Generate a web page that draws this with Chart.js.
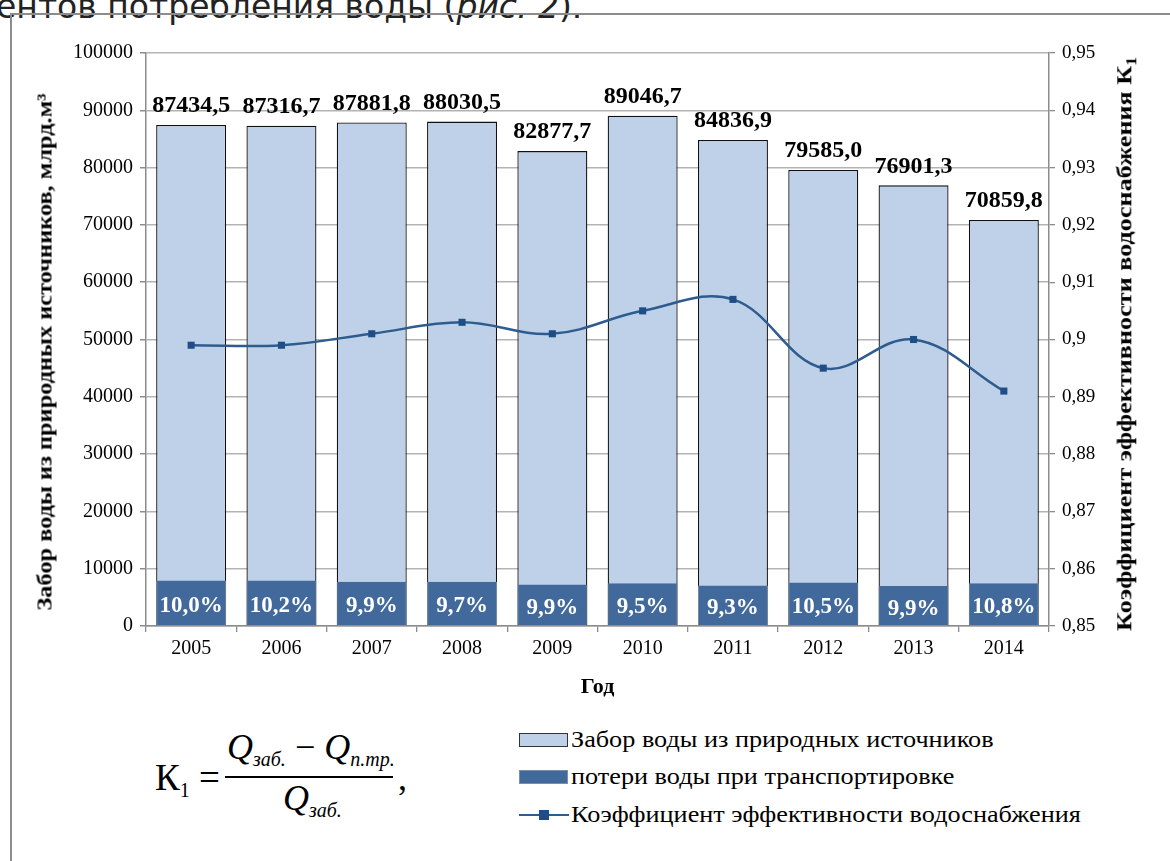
<!DOCTYPE html>
<html><head><meta charset="utf-8">
<script src="https://cdn.jsdelivr.net/npm/chart.js@4.4.1/dist/chart.umd.min.js"></script>
<style>
html,body{margin:0;padding:0;background:#fff;}
body{width:1170px;height:861px;overflow:hidden;position:relative;font-family:"Liberation Serif",serif;color:#000;}
#toptext{position:absolute;left:-4px;top:-13px;font-family:"DejaVu Sans",sans-serif;font-size:33px;color:#222;white-space:nowrap;}
#frame{position:absolute;left:10px;top:13px;width:1300px;height:1000px;border-left:2px solid #8c8c8c;border-top:2px solid #8c8c8c;}
#wrap{position:absolute;left:0;top:0;width:1170px;height:710px;}
.vt{position:absolute;white-space:nowrap;font-weight:bold;}
#ltitle{left:45px;top:352px;font-size:21px;transform:translate(-50%,-50%) rotate(-90deg) scale(1.16,1);}
#rtitle{left:1126px;top:344px;font-size:22px;transform:translate(-50%,-50%) rotate(-90deg) scale(1.19,1);}
#legend{position:absolute;left:519px;top:726px;font-size:23px;}
.item{position:absolute;left:0;height:26px;display:flex;align-items:center;white-space:nowrap;}
.item .txt{display:inline-block;transform:scale(1.14,1);transform-origin:left center;}
.box{display:inline-block;width:49px;height:14px;margin-right:3px;box-sizing:border-box;}
.light{background:#BFD1E8;border:1.5px solid #333;}
.dark{background:#41699B;border:1px solid #7a8fa8;}
.lineSym{position:relative;display:inline-block;width:50px;height:13px;margin-right:2px;}
.lineSym:before{content:"";position:absolute;left:0;right:0;top:5px;height:2.5px;background:#2E5C8F;}
.lineSym:after{content:"";position:absolute;left:20px;top:1px;width:10px;height:10px;background:#1F4E87;}
#formula{position:absolute;left:155px;top:735px;font-size:37px;}
#formula .part{position:absolute;white-space:nowrap;}
#formula i{font-style:italic;}
#formula sub{font-size:20px;vertical-align:-7px;}
</style></head>
<body>
<div id="toptext">ентов потребления воды (<i>рис. 2</i>).</div>
<div id="frame"></div>
<div id="wrap"><canvas id="c" width="1170" height="710"></canvas></div>
<div id="ltitle" class="vt">Забор воды из природных источников, млрд.м³</div>
<div id="rtitle" class="vt">Коэффициент эффективности водоснабжения К<sub style="font-size:15px">1</sub></div>
<div id="legend">
  <div class="item" style="top:1px"><span class="box light"></span><span class="txt" id="lg0"></span></div>
  <div class="item" style="top:38px"><span class="box dark"></span><span class="txt" id="lg1"></span></div>
  <div class="item" style="top:76px"><span class="lineSym"></span><span class="txt" id="lg2"></span></div>
</div>
<div id="formula">
  <div class="part" style="left:0;top:21px;">К<sub>1</sub> =</div>
  <div class="part" style="left:72px;top:-9px;font-size:36px;"><i>Q</i><sub><i>заб.</i></sub> − <i>Q</i><sub><i>п.тр.</i></sub></div>
  <div class="part" style="left:70px;top:41px;width:168px;height:1.5px;background:#000;"></div>
  <div class="part" style="left:128px;top:42px;font-size:36px;"><i>Q</i><sub><i>заб.</i></sub></div>
  <div class="part" style="left:243px;top:22px;font-size:36px;">,</div>
</div>
<script>
// ---- data ----
const years = ['2005','2006','2007','2008','2009','2010','2011','2012','2013','2014'];
const intake = [87434.5, 87316.7, 87881.8, 88030.5, 82877.7, 89046.7, 84836.9, 79585.0, 76901.3, 70859.8];
const losses = [7940, 7940, 7710, 7710, 7240, 7470, 7060, 7590, 7000, 7470];
const lossShare = [10.0, 10.2, 9.9, 9.7, 9.9, 9.5, 9.3, 10.5, 9.9, 10.8];
const k1 = [0.899, 0.899, 0.901, 0.903, 0.901, 0.905, 0.907, 0.895, 0.900, 0.891];
const seriesNames = ['Забор воды из природных источников','потери воды при транспортировке','Коэффициент эффективности водоснабжения'];
const leftAxis = {min:0, max:100000, step:10000};
const rightAxis = {min:0.85, max:0.95, step:0.01};

document.getElementById('lg0').textContent = seriesNames[0];
document.getElementById('lg1').textContent = seriesNames[1];
document.getElementById('lg2').textContent = seriesNames[2];

const FONT = '"Liberation Serif", serif';
const comma = s => s.replace('.', ',');

const labelPlugin = {
  id: 'barLabels',
  afterDatasetsDraw(chart) {
    const ctx = chart.ctx;
    const m0 = chart.getDatasetMeta(0), m1 = chart.getDatasetMeta(1);
    ctx.save();
    ctx.textAlign = 'center';
    ctx.textBaseline = 'middle';
    ctx.font = 'bold 24px ' + FONT;
    ctx.fillStyle = '#000';
    m0.data.forEach((el, i) => ctx.fillText(comma(intake[i].toFixed(1)), el.x, el.y - 19));
    ctx.font = 'bold 23px ' + FONT;
    ctx.fillStyle = '#fff';
    m1.data.forEach((el, i) => ctx.fillText(comma(lossShare[i].toFixed(1)) + '%', el.x, (el.y + el.base) / 2 + 3));
    ctx.restore();
  }
};

new Chart(document.getElementById('c'), {
  data: {
    labels: years,
    datasets: [
      { type:'bar', label: seriesNames[0], data: intake, yAxisID:'y', order:3,
        backgroundColor:'#BFD1E8', borderColor:'#111', borderWidth:1.3,
        barPercentage:0.775, categoryPercentage:1 },
      { type:'bar', label: seriesNames[1], data: losses, yAxisID:'y', order:2,
        backgroundColor:'#41699B', borderColor:'#7d93ad', borderWidth:{top:0,left:1,right:1,bottom:0},
        barPercentage:0.775, categoryPercentage:1 },
      { type:'line', label: seriesNames[2], data: k1, yAxisID:'y1', order:1,
        borderColor:'#2E5C8F', borderWidth:2.5, tension:0.38, cubicInterpolationMode:'default',
        pointStyle:'rect', pointRadius:5, pointBackgroundColor:'#1F4E87', pointBorderColor:'#1F4E87', pointBorderWidth:0 }
    ]
  },
  options: {
    responsive:false, animation:false, devicePixelRatio:1,
    layout:{padding:{top:53,left:0,right:0,bottom:0}},
    plugins:{legend:{display:false}, tooltip:{enabled:false}},
    scales:{
      x:{ stacked:true, offset:true,
        grid:{display:true, drawOnChartArea:false, drawTicks:true, tickLength:6, color:'#8c8c8c', lineWidth:1.3, offset:true},
        border:{color:'#8c8c8c', width:1.5},
        ticks:{font:{family:FONT, size:20}, color:'#000', padding:5, maxRotation:0},
        title:{display:true, text:'Год', color:'#000', font:{family:FONT, size:22, weight:'bold'}, padding:{top:0,bottom:9}},
        afterFit: s => { s.height = 84; }
      },
      y:{ position:'left', min:leftAxis.min, max:leftAxis.max, stacked:false,
        ticks:{stepSize:leftAxis.step, font:{family:FONT, size:20}, color:'#000', padding:7,
          callback: v => String(v)},
        grid:{color:'#b3b3b3', lineWidth:1.5, tickLength:6, tickColor:'#8c8c8c'},
        border:{color:'#8c8c8c', width:1.5},
        title:{display:false},
        afterFit: s => { s.width = 146; }
      },
      y1:{ position:'right', min:rightAxis.min, max:rightAxis.max,
        ticks:{stepSize:rightAxis.step, font:{family:FONT, size:19}, color:'#000', padding:7,
          callback: v => comma(String(Number(v.toFixed(2))))},
        grid:{drawOnChartArea:false, tickLength:6, color:'#8c8c8c', lineWidth:1.3},
        border:{color:'#8c8c8c', width:1.5},
        afterFit: s => { s.width = 121; }
      }
    }
  },
  plugins:[labelPlugin]
});
</script>
</body></html>
